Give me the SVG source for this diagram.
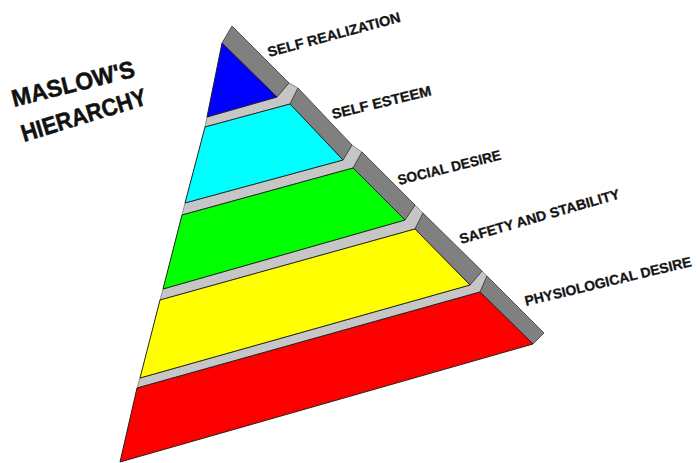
<svg xmlns="http://www.w3.org/2000/svg" width="697" height="463" viewBox="0 0 697 463">
<style>
.face{stroke:#222;stroke-width:1;stroke-linejoin:round}
.side{fill:#808080;stroke:#3a3a3a;stroke-width:0.8;stroke-linejoin:round}
.ledge{fill:#c6c6c6;stroke:#555;stroke-width:0.6;stroke-linejoin:round}
.lbl{font-family:"Liberation Sans",Arial,sans-serif;font-weight:bold;font-size:14px;fill:#141414;stroke:#141414;stroke-width:0.3}
.title{font-family:"Liberation Sans",Arial,sans-serif;font-weight:bold;font-size:24px;fill:#111;stroke:#111;stroke-width:0.5}
</style>
<rect width="697" height="463" fill="#fff"/>
<g id="title">
<text class="title" transform="translate(14,107) rotate(-14)" textLength="126" lengthAdjust="spacingAndGlyphs">MASLOW'S</text>
<text class="title" transform="translate(24,142) rotate(-17)" textLength="130" lengthAdjust="spacingAndGlyphs">HIERARCHY</text>
</g>
<g id="physiological-desire">
<polygon class="ledge" points="137,388 480,292 487,276 482,271 470,285 140,378"/>
<polygon class="side" points="480,292 487,276 544,333 533,344"/>
<polygon class="face" fill="#ff0000" points="137,388 480,292 533,344 120,462"/>
<text class="lbl" transform="translate(526,306) rotate(-13.5)" textLength="171" lengthAdjust="spacingAndGlyphs">PHYSIOLOGICAL DESIRE</text>
</g>
<g id="safety-and-stability">
<polygon class="ledge" points="160,300 415,229 423,213 415,205 405,220 163,289"/>
<polygon class="side" points="415,229 423,213 482,271 470,285"/>
<polygon class="face" fill="#ffff00" points="160,300 415,229 470,285 140,378"/>
<text class="lbl" transform="translate(461,244) rotate(-16)" textLength="166" lengthAdjust="spacingAndGlyphs">SAFETY AND STABILITY</text>
</g>
<g id="social-desire">
<polygon class="ledge" points="182,215 353,168 362,152 352,145 343,160 185,203"/>
<polygon class="side" points="353,168 362,152 415,205 405,220"/>
<polygon class="face" fill="#00ff00" points="182,215 353,168 405,220 163,289"/>
<text class="lbl" transform="translate(399,185) rotate(-14)" textLength="106" lengthAdjust="spacingAndGlyphs">SOCIAL DESIRE</text>
</g>
<g id="self-esteem">
<polygon class="ledge" points="205,127 290,104 298,88 289,83 277,97 207,117"/>
<polygon class="side" points="290,104 298,88 352,145 343,160"/>
<polygon class="face" fill="#00ffff" points="205,127 290,104 343,160 185,203"/>
<text class="lbl" transform="translate(333,119) rotate(-13.5)" textLength="102" lengthAdjust="spacingAndGlyphs">SELF ESTEEM</text>
</g>
<g id="self-realization">
<polygon class="side" points="222,43 232,26 289,83 277,97"/>
<polygon class="face" fill="#0000ff" points="222,43 277,97 207,117"/>
<text class="lbl" transform="translate(269,57) rotate(-15)" textLength="137" lengthAdjust="spacingAndGlyphs">SELF REALIZATION</text>
</g>
</svg>
